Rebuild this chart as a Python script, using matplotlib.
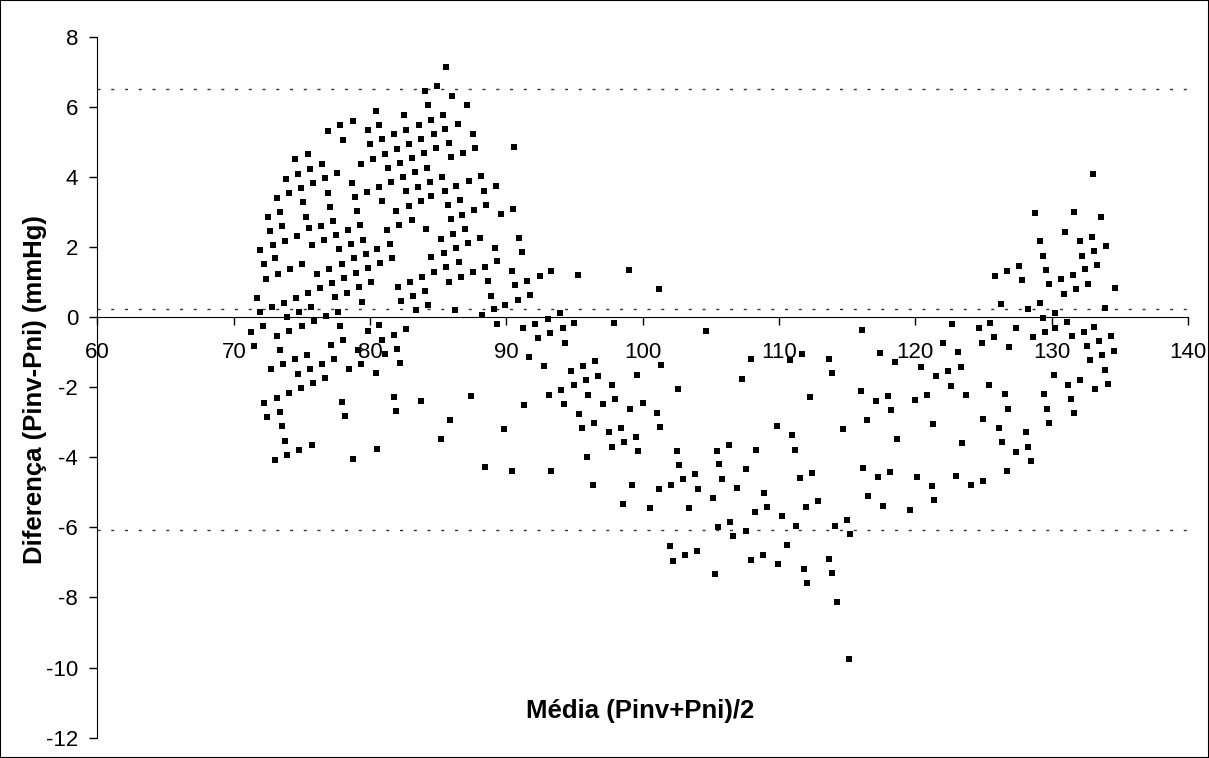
import numpy as np
import matplotlib.pyplot as plt
from matplotlib.patches import Rectangle

plt.rcParams['font.family'] = ['Liberation Sans', 'DejaVu Sans']
plt.rcParams['axes.unicode_minus'] = False

# Média (Pinv+Pni)/2 e diferença Pinv-Pni, agrupadas por faixa de pressão
media_70_81a = [80.47, 78.75, 77.83, 76.95, 79.83, 80.62, 78.02, 80.03, 75.41, 74.50,
                80.22, 79.34, 76.48, 75.60, 77.56, 74.70, 76.70, 73.82, 78.66, 75.80,
                74.90, 80.62, 79.74, 76.90, 74.04, 78.86, 73.14, 75.09, 77.07, 79.05,
                73.36, 75.29, 72.48, 77.29, 73.55, 79.25, 76.39, 75.51, 72.67, 78.39,
                74.65, 77.51, 76.63, 73.77, 79.46, 72.87, 75.73, 78.59, 77.71, 80.54,
                71.96, 79.68, 73.04, 78.80]
dif_70_81a = [5.89, 5.60, 5.47, 5.32, 5.34, 5.48, 5.06, 4.93, 4.64, 4.50,
              4.52, 4.37, 4.37, 4.22, 4.10, 4.09, 3.96, 3.95, 3.82, 3.82,
              3.68, 3.71, 3.57, 3.55, 3.55, 3.43, 3.40, 3.27, 3.14, 3.02,
              3.00, 2.86, 2.84, 2.75, 2.59, 2.62, 2.60, 2.53, 2.45, 2.48,
              2.32, 2.34, 2.19, 2.18, 2.21, 2.05, 2.05, 2.07, 1.93, 1.94,
              1.90, 1.81, 1.67, 1.69]

media_70_81b = [72.21, 75.04, 74.16, 73.28, 72.40, 76.14, 77.02, 77.95, 79.00, 79.88,
                78.12, 77.24, 76.33, 75.45, 74.57, 73.67, 71.72, 72.79, 71.94, 73.87,
                74.79, 75.65, 76.75, 77.63, 77.43, 78.31, 79.19, 80.10, 79.41, 71.25,
                72.11, 71.45, 73.18, 74.06, 74.97, 75.87, 77.83, 79.83, 80.62, 73.38,
                77.17, 78.02, 79.12, 72.72, 73.62, 74.50, 75.36, 76.46, 77.36, 79.34,
                78.44, 80.41, 74.70, 75.58, 76.68, 75.78, 74.90, 74.04, 73.14, 72.23,
                77.95, 73.36, 72.43, 78.17, 73.55, 73.75, 75.73, 74.82, 73.94, 73.06,
                78.78, 80.54]
dif_70_81b = [1.50, 1.51, 1.37, 1.23, 1.08, 1.24, 1.38, 1.51, 1.26, 1.39,
              1.10, 0.96, 0.84, 0.68, 0.55, 0.41, 0.54, 0.28, 0.13, 0.00,
              0.13, 0.29, 0.02, 0.14, 0.56, 0.69, 0.85, 0.99, 0.44, -0.42,
              -0.27, -0.83, -0.54, -0.41, -0.26, -0.12, -0.25, -0.39, -0.24, -0.95,
              -0.79, -0.66, -0.93, -1.49, -1.35, -1.21, -1.08, -1.34, -1.21, -1.33,
              -1.48, -1.60, -1.63, -1.48, -1.75, -1.89, -2.03, -2.17, -2.31, -2.45,
              -2.42, -2.72, -2.86, -2.82, -3.12, -3.55, -3.66, -3.79, -3.94, -4.08,
              -4.06, -3.77]

media_80_92a = [85.57, 84.91, 84.03, 86.01, 84.23, 87.14, 82.47, 85.33, 84.45, 83.57,
                82.67, 85.53, 86.43, 81.79, 84.67, 87.53, 80.91, 83.77, 82.86, 85.77,
                81.98, 84.87, 87.70, 90.59, 81.10, 83.96, 86.82, 85.94, 83.06, 82.20,
                84.21, 81.30, 83.28, 82.40, 85.26, 88.12, 81.52, 84.40, 87.24, 83.50,
                86.34, 89.22, 82.60, 85.48, 88.34, 84.44, 80.84, 83.70, 86.58, 82.82,
                85.68, 88.54, 81.91, 87.63, 86.75, 89.64, 90.49, 83.04, 85.90, 82.13,
                81.25, 84.11, 86.95, 86.12, 85.21, 88.07, 90.93, 81.44, 87.18, 86.28,
                89.14, 85.40, 91.12, 81.61, 84.50, 89.33]
dif_80_92a = [7.14, 6.59, 6.44, 6.31, 6.04, 6.05, 5.75, 5.76, 5.63, 5.49,
              5.34, 5.36, 5.50, 5.21, 5.22, 5.23, 5.07, 5.08, 4.94, 4.96,
              4.79, 4.81, 4.82, 4.85, 4.66, 4.68, 4.69, 4.56, 4.54, 4.40,
              4.26, 4.25, 4.13, 3.99, 4.00, 4.01, 3.84, 3.86, 3.87, 3.72,
              3.73, 3.74, 3.59, 3.59, 3.60, 3.45, 3.30, 3.32, 3.33, 3.17,
              3.19, 3.20, 3.03, 3.05, 2.92, 2.93, 3.07, 2.76, 2.79, 2.62,
              2.49, 2.50, 2.51, 2.38, 2.23, 2.25, 2.26, 2.07, 2.10, 1.97,
              1.98, 1.83, 1.85, 1.69, 1.70, 1.60]

media_80_92b = [80.76, 86.50, 85.57, 88.46, 84.72, 87.58, 90.39, 83.84, 86.67, 82.96,
                85.79, 88.68, 82.08, 90.61, 84.03, 83.15, 88.85, 82.28, 90.83, 84.23,
                83.37, 86.21, 89.07, 89.93, 88.19, 89.29, 91.22, 82.67, 81.79, 80.91,
                81.98, 81.10, 82.20, 81.74, 83.70, 87.43, 91.27, 81.91, 85.87, 89.80,
                85.18, 88.46, 90.39]
dif_80_92b = [1.53, 1.56, 1.42, 1.43, 1.28, 1.29, 1.30, 1.13, 1.14, 1.00,
              1.01, 1.02, 0.86, 0.90, 0.73, 0.59, 0.61, 0.45, 0.49, 0.33,
              0.19, 0.21, 0.22, 0.35, 0.06, -0.20, -0.32, -0.35, -0.50, -0.65,
              -0.92, -1.06, -1.31, -2.27, -2.40, -2.25, -2.50, -2.68, -2.94, -3.20,
              -3.48, -4.29, -4.39]

media_91_103a = [93.30, 92.44, 95.23, 98.99, 91.54, 91.76, 101.19, 93.90, 93.02, 92.12,
                 94.12, 94.98, 97.88, 93.23, 92.35, 94.30, 91.66, 92.74, 94.74, 95.62,
                 96.50, 101.33, 96.69, 95.81, 94.93, 99.55, 97.77, 102.57, 94.03, 93.15,
                 96.01, 94.25, 97.11, 97.99, 99.99, 99.09, 95.32, 101.05]
dif_91_103a = [1.32, 1.18, 1.19, 1.34, 1.03, 0.64, 0.81, 0.11, -0.06, -0.19,
               -0.31, -0.18, -0.16, -0.47, -0.60, -0.73, -1.15, -1.40, -1.54, -1.40,
               -1.26, -1.37, -1.67, -1.81, -1.95, -1.66, -1.93, -2.05, -2.09, -2.23,
               -2.22, -2.49, -2.48, -2.34, -2.46, -2.62, -2.76, -2.73]

media_91_103b = [95.54, 96.40, 97.50, 98.38, 101.24, 99.48, 98.60, 97.72, 99.68, 102.51,
                 95.94, 102.65, 93.30, 96.35, 99.21, 101.17, 102.10, 98.53, 100.51, 102.00,
                 102.19]
dif_91_103b = [-3.18, -3.02, -3.29, -3.16, -3.14, -3.42, -3.56, -3.71, -3.83, -3.82,
               -3.99, -4.23, -4.39, -4.80, -4.79, -4.91, -4.78, -5.34, -5.46, -6.54,
               -6.96]

media_103_115a = [104.66, 107.93, 107.25, 111.70, 110.77, 113.63, 113.85, 112.29, 109.84, 110.92,
                  106.30, 105.42, 108.28, 111.14, 105.62, 107.60, 103.83, 102.98, 105.84, 111.53,
                  112.44, 104.05, 106.91, 108.89, 105.13, 112.83]
dif_103_115a = [-0.40, -1.21, -1.76, -1.05, -1.23, -1.20, -1.59, -2.28, -3.10, -3.38,
                -3.65, -3.81, -3.79, -3.79, -4.20, -4.35, -4.49, -4.62, -4.62, -4.59,
                -4.45, -4.90, -4.89, -5.02, -5.16, -5.25]

media_103_115b = [103.37, 108.21, 109.09, 110.19, 111.95, 106.43, 105.55, 111.26, 114.12, 107.56,
                  106.63, 110.57, 103.97, 103.11, 108.83, 107.95, 109.91, 113.65, 105.27, 111.85,
                  113.85, 112.07, 114.27]
dif_103_115b = [-5.45, -5.56, -5.42, -5.69, -5.41, -5.85, -5.99, -5.95, -5.95, -6.11,
                -6.24, -6.51, -6.67, -6.80, -6.78, -6.93, -7.06, -6.90, -7.34, -7.18,
                -7.30, -7.59, -8.13]

media_114_126 = [116.10, 117.42, 118.49, 122.72, 124.68, 125.45, 122.04, 124.90, 123.11, 120.45,
                 122.43, 123.33, 121.55, 122.65, 125.44, 116.03, 117.15, 118.03, 119.99, 120.87,
                 123.73, 118.23, 116.42, 114.68, 121.26, 125.00, 118.62, 123.46, 116.17, 117.27,
                 118.12, 120.10, 121.20, 122.96, 124.09, 124.94, 116.56, 121.40, 117.64, 119.64,
                 115.01, 115.21, 115.13]
dif_114_126 = [-0.37, -1.02, -1.29, -0.20, -0.32, -0.17, -0.74, -0.73, -1.01, -1.43,
               -1.55, -1.43, -1.69, -1.97, -1.95, -2.12, -2.39, -2.26, -2.38, -2.23,
               -2.23, -2.66, -2.94, -3.20, -3.05, -2.91, -3.47, -3.59, -4.30, -4.56,
               -4.43, -4.56, -4.81, -4.54, -4.80, -4.67, -5.12, -5.22, -5.38, -5.51,
               -5.80, -6.20, -9.75]

media_125_135a = [133.01, 128.76, 131.65, 133.65, 130.95, 129.17, 132.05, 132.93, 134.01, 133.11,
                  132.23, 129.37, 127.63, 126.75, 125.85, 129.59, 133.30, 132.45, 131.57, 127.80,
                  130.69, 129.78, 132.64, 131.79, 134.62, 130.88, 126.26, 129.12, 128.27, 133.94,
                  130.22, 129.34, 127.39, 131.15, 130.25, 133.11, 129.52, 132.38, 125.78, 128.64,
                  131.50, 134.36, 133.48, 126.85, 132.60, 134.56, 133.71, 132.78]
dif_125_135a = [4.07, 2.97, 2.99, 2.84, 2.43, 2.16, 2.16, 2.29, 2.03, 1.89,
                1.75, 1.74, 1.46, 1.32, 1.18, 1.33, 1.48, 1.36, 1.21, 1.06,
                1.08, 0.93, 0.94, 0.80, 0.82, 0.66, 0.37, 0.39, 0.23, 0.27,
                0.11, -0.03, -0.31, -0.15, -0.31, -0.28, -0.44, -0.42, -0.58, -0.56,
                -0.55, -0.54, -0.68, -0.86, -0.83, -0.96, -1.09, -1.23]

media_125_135b = [133.92, 130.15, 132.11, 131.23, 134.11, 133.18, 126.61, 129.47, 131.43, 126.83,
                  129.67, 131.65, 129.84, 126.15, 128.10, 126.34, 128.29, 127.41, 128.49, 126.73]
dif_125_135b = [-1.52, -1.65, -1.79, -1.93, -1.92, -2.05, -2.21, -2.20, -2.33, -2.62,
                -2.62, -2.74, -3.02, -3.18, -3.29, -3.57, -3.70, -3.84, -4.11, -4.39]

# média das diferenças e limites de concordância
media_dif = 0.22
limite_sup = 6.51
limite_inf = -6.07

media = np.concatenate([media_70_81a, media_70_81b, media_80_92a, media_80_92b,
                        media_91_103a, media_91_103b, media_103_115a, media_103_115b,
                        media_114_126, media_125_135a, media_125_135b])
dif = np.concatenate([dif_70_81a, dif_70_81b, dif_80_92a, dif_80_92b,
                      dif_91_103a, dif_91_103b, dif_103_115a, dif_103_115b,
                      dif_114_126, dif_125_135a, dif_125_135b])

fig = plt.figure(figsize=(12.09, 7.58), dpi=100)
ax = fig.add_axes([0.0806, 0.0269, 0.902, 0.9248])

for nivel in (limite_sup, media_dif, limite_inf):
    ax.axhline(nivel, color='#333333', lw=1.0, linestyle=(0, (2.2, 7.7)), zorder=1)

ax.plot(media, dif, 's', ms=3.8, mew=0, color='black', zorder=3)

ax.set_xlim(60, 140)
ax.set_ylim(-12, 8)
ax.set_xticks(np.arange(60, 141, 10))
ax.set_yticks(np.arange(-12, 9, 2))

ax.spines['top'].set_visible(False)
ax.spines['right'].set_visible(False)
ax.spines['bottom'].set_position(('data', 0))
ax.spines['bottom'].set_zorder(2)

ax.tick_params(axis='x', direction='out', length=6, width=1, pad=12, labelsize=16)
ax.tick_params(axis='y', direction='out', length=6, width=1, pad=8, labelsize=16)

fig.text(640 / 1209, 1 - 711 / 758, 'Média (Pinv+Pni)/2', ha='center', va='center',
         fontsize=18.5, fontweight='bold')
fig.text(35 / 1209, 1 - 390 / 758, 'Diferença (Pinv-Pni) (mmHg)', ha='center', va='center',
         rotation=90, fontsize=18.5, fontweight='bold')

fig.patches.append(Rectangle((0, 0), 1, 1, transform=fig.transFigure, fill=False,
                             ec='black', lw=1.5))

fig.savefig('out.png', dpi=100)
